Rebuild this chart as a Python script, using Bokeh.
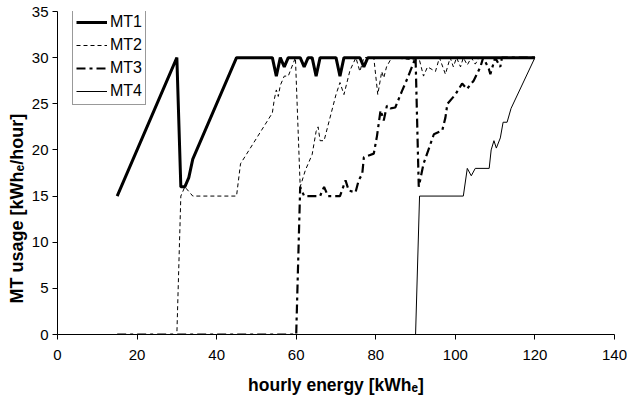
from bokeh.plotting import figure
from bokeh.models import Range1d, Legend, LegendItem, SingleIntervalTicker, Title
from bokeh.embed import file_html
from bokeh.resources import INLINE

# ---- data ----
mt1_x = [15, 30, 31, 32, 33, 34, 45, 54, 55, 56, 57, 58, 61, 62, 63, 64, 65, 66, 70, 71, 72, 76, 77, 78, 120]
mt1_y = [15, 30, 16, 16, 17, 19, 30, 30, 28, 30, 29, 30, 30, 29, 30, 30, 28, 30, 30, 28, 30, 30, 29, 30, 30]

mt2_x = [15, 30, 31, 32, 34, 45, 46, 54, 54.5, 55, 55.5, 56, 57, 58, 59.8, 61, 62.3, 64, 65, 65.5, 66, 67, 70, 71,
         72, 73.5, 75, 76, 77, 79.5, 80.5, 81.5, 82, 82.7, 84, 91, 92, 93, 95, 96, 97.5, 98.7, 99.5, 100.3,
         101.3, 102, 103, 104, 105, 106, 120]
mt2_y = [0, 0, 15, 16, 15, 15, 18.5, 24, 25.5, 26.5, 25.8, 27, 28, 28, 30, 16, 17.8, 19.5, 22, 22.5, 21, 21, 26, 27.3,
         26, 28.6, 30, 28.5, 30, 30, 26, 28.5, 27.8, 29, 30, 29.7, 28, 29, 28.5, 30, 28.2, 30, 29, 30,
         29, 30, 29.2, 30, 29.3, 30, 30]

mt3_x = [15, 60, 61, 62, 66, 67, 68, 71, 72.4, 73.2, 74.9, 75.7, 76.6, 77, 79.5, 80.3, 81.2, 82, 82.8, 83.7, 84.9,
         86.6, 87.9, 90, 90.8, 92, 94.6, 96.7, 97.5, 98, 100, 101.7, 102.9, 104.6, 106.3, 107, 108.4, 108.8,
         110, 111.3, 111.7, 120]
mt3_y = [0, 0, 16, 15, 15, 16, 15, 15, 16.7, 15.6, 15.4, 16.7, 17.4, 19.2, 19.6, 21.5, 24.3, 23.2, 24.8, 24.5, 24.6,
         26.4, 27.7, 30, 16, 18.5, 21.7, 22.1, 23.5, 25, 26, 27.2, 26.6, 27.5, 29, 30, 28.8, 28.2,
         30, 29, 30, 30]

mt4_x = [15, 90, 91, 102, 103, 104, 105, 108.5, 109, 109.7, 110.3, 111.3, 112, 113, 114, 120]
mt4_y = [0, 0, 15, 15, 18, 17.2, 18, 18, 20, 21, 20.2, 21.3, 23, 23, 24.5, 30]

x_label = "hourly energy [kWh\u2091]"
y_label = "MT usage [kWh\u2091/hour]"

FONT = "Liberation Sans"

p = figure(width=627, height=399, output_backend="svg", toolbar_location=None,
           x_range=Range1d(0, 140), y_range=Range1d(0, 35),
           min_border_left=57, min_border_right=13, min_border_top=11, min_border_bottom=65)
p.outline_line_color = None
p.grid.visible = False
p.background_fill_color = "white"
p.border_fill_color = "white"

p.xaxis.ticker = SingleIntervalTicker(interval=20)
p.yaxis.ticker = SingleIntervalTicker(interval=5)
for ax in (p.xaxis, p.yaxis):
    ax.axis_line_color = "black"
    ax.axis_line_width = 1
    ax.major_tick_line_color = "black"
    ax.major_tick_in = 0
    ax.major_tick_out = 5
    ax.minor_tick_line_color = None
    ax.major_label_text_font = FONT
    ax.major_label_text_font_size = "15px"
    ax.major_label_text_color = "black"
    ax.axis_label_text_font = FONT
    ax.axis_label_text_font_size = "17.5px"
    ax.axis_label_text_font_style = "bold"
    ax.axis_label_text_color = "black"
p.xaxis.axis_label = x_label
p.xaxis.major_label_standoff = 10
p.xaxis.axis_label_standoff = 12
p.yaxis.major_label_standoff = 4

# y-axis title as a side title, starting above the frame bottom as in the reference
ytitle = Title(text=y_label, align="left", offset=31, text_font=FONT, text_font_size="18px",
               text_font_style="bold", text_color="black", standoff=4)
p.add_layout(ytitle, "left")

r1 = p.line(mt1_x, mt1_y, line_color="black", line_width=3)
r2 = p.line(mt2_x, mt2_y, line_color="black", line_width=1, line_dash="4 3")
r3 = p.line(mt3_x, mt3_y, line_color="black", line_width=2.2, line_dash="9 4 3 4")
r4 = p.line(mt4_x, mt4_y, line_color="black", line_width=1)

legend = Legend(items=[LegendItem(label="MT1", renderers=[r1]),
                       LegendItem(label="MT2", renderers=[r2]),
                       LegendItem(label="MT3", renderers=[r3]),
                       LegendItem(label="MT4", renderers=[r4])],
                location=(15, 323 - 94))
legend.label_text_font = FONT
legend.label_text_font_size = "16px"
legend.label_text_color = "black"
legend.border_line_color = "#333333"
legend.border_line_width = 1.5
legend.background_fill_color = "white"
legend.background_fill_alpha = 1
legend.padding = 3
legend.margin = 0
legend.spacing = 3
legend.glyph_width = 31
legend.glyph_height = 20
legend.label_height = 20
legend.label_standoff = 3
p.add_layout(legend, "center")

open("out.html", "w").write(file_html(p, INLINE))
